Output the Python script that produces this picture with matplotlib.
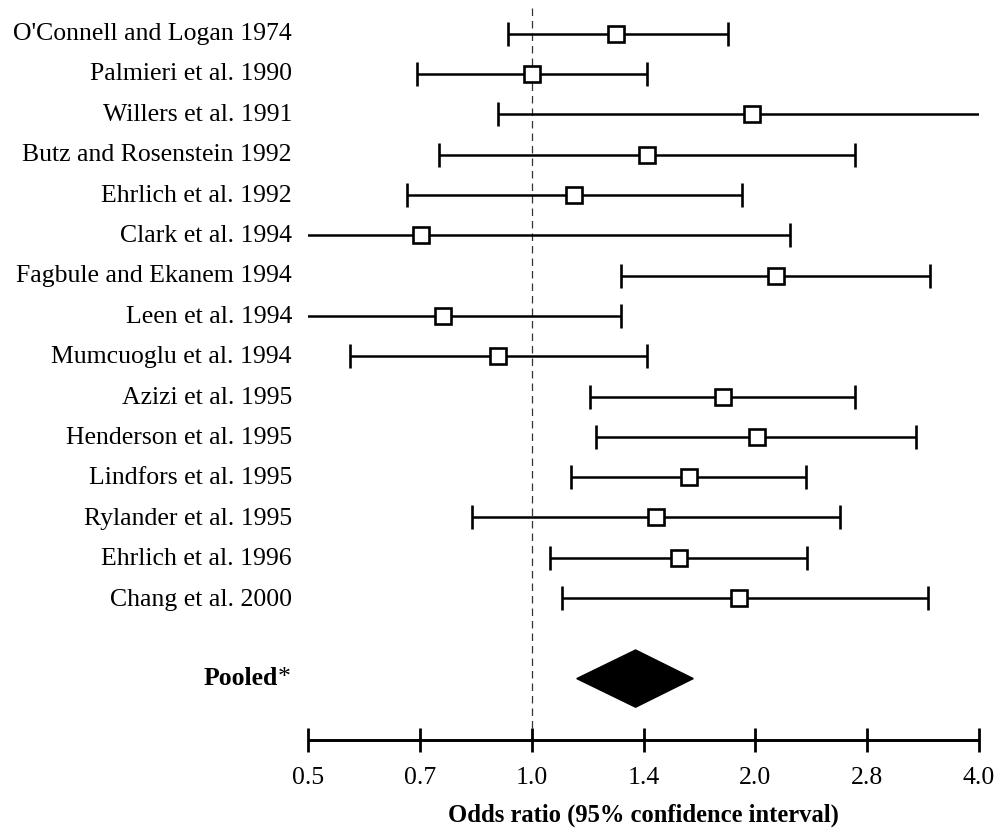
import numpy as np
import matplotlib
matplotlib.use("Agg")
import matplotlib.pyplot as plt
from matplotlib.patches import Polygon

studies = ["O'Connell and Logan 1974", "Palmieri et al. 1990", "Willers et al. 1991",
           "Butz and Rosenstein 1992", "Ehrlich et al. 1992", "Clark et al. 1994",
           "Fagbule and Ekanem 1994", "Leen et al. 1994", "Mumcuoglu et al. 1994",
           "Azizi et al. 1995", "Henderson et al. 1995", "Lindfors et al. 1995",
           "Rylander et al. 1995", "Ehrlich et al. 1996", "Chang et al. 2000"]
odds_ratio = [1.30, 1.00, 1.98, 1.43, 1.14, 0.71, 2.13, 0.76, 0.90,
              1.81, 2.01, 1.63, 1.47, 1.58, 1.90]
ci_low = [0.93, 0.70, 0.90, 0.75, 0.68, 0.45, 1.32, 0.45, 0.57,
          1.20, 1.22, 1.13, 0.83, 1.06, 1.10]
ci_high = [1.84, 1.43, 4.60, 2.72, 1.92, 2.23, 3.44, 1.32, 1.43,
           2.72, 3.29, 2.34, 2.60, 2.35, 3.41]
pooled = (1.38, 1.15, 1.65)  # estimate, low, high
tick_values = [0.5, 0.5 * 2 ** 0.5, 1.0, 2 ** 0.5, 2.0, 2 * 2 ** 0.5, 4.0]
tick_labels = ["0.5", "0.7", "1.0", "1.4", "2.0", "2.8", "4.0"]

FONT = "Liberation Serif"
FS = 18.5

W, H = 995, 830
fig = plt.figure(figsize=(W / 100, H / 100), dpi=100)
x0, x1 = 308, 979
ax = fig.add_axes([x0 / W, 0, (x1 - x0) / W, 1])
ax.set_xscale("log")
ax.set_xlim(0.5, 4.0)

row_px = 40.4
y_pooled = 16.0
y_axis = 17.53
ax.set_ylim(17.53 + 90 / row_px, -34 / row_px)

ys = np.arange(len(studies))
ax.errorbar(odds_ratio, ys,
            xerr=[np.array(odds_ratio) - np.array(ci_low), np.array(ci_high) - np.array(odds_ratio)],
            fmt="s", color="black", ecolor="black", elinewidth=1.8, capsize=8.5, capthick=1.8,
            markersize=11.5, markerfacecolor="white", markeredgecolor="black", markeredgewidth=1.9,
            zorder=3)

# pooled diamond
pe, pl, ph = pooled
dh = 0.71
diamond = Polygon([(pl, y_pooled), (pe, y_pooled - dh), (ph, y_pooled), (pe, y_pooled + dh)],
                  closed=True, facecolor="black", edgecolor="black", zorder=3)
ax.add_patch(diamond)

# reference line
ax.plot([1.0, 1.0], [-26 / row_px, y_axis], color="#333333", lw=0.9,
        linestyle=(0, (6, 4)), zorder=1)

for s in ["top", "right", "left"]:
    ax.spines[s].set_visible(False)
ax.spines["bottom"].set_position(("data", y_axis))
ax.spines["bottom"].set_linewidth(2.1)
ax.spines["bottom"].set_capstyle("butt")
ax.set_yticks([])
ax.xaxis.set_minor_locator(matplotlib.ticker.NullLocator())
ax.set_xticks(tick_values)
ax.set_xticklabels(tick_labels, fontfamily=FONT, fontsize=FS)
ax.tick_params(axis="x", direction="inout", length=17, width=2.0, pad=11)
ax.patch.set_alpha(0)

# study labels
for i, name in enumerate(studies):
    fig.text(292 / W, 1 - (34 + i * row_px) / H, name, ha="right", va="center",
             fontfamily=FONT, fontsize=FS)

# pooled label
ypx = 1 - 678 / H
star = fig.text(291 / W, ypx, "*", ha="right", va="center", fontfamily=FONT, fontsize=FS)
r = fig.canvas.get_renderer()
sw = star.get_window_extent(renderer=r).width
fig.text((291 - sw) / W, ypx, "Pooled", ha="right", va="center", fontfamily=FONT,
         fontsize=FS, fontweight="bold")

fig.text((x0 + x1) / 2 / W, 1 - 822 / H, "Odds ratio (95% confidence interval)",
         ha="center", va="baseline", fontfamily=FONT, fontsize=17.7, fontweight="bold")

fig.savefig("out.png", dpi=100)
